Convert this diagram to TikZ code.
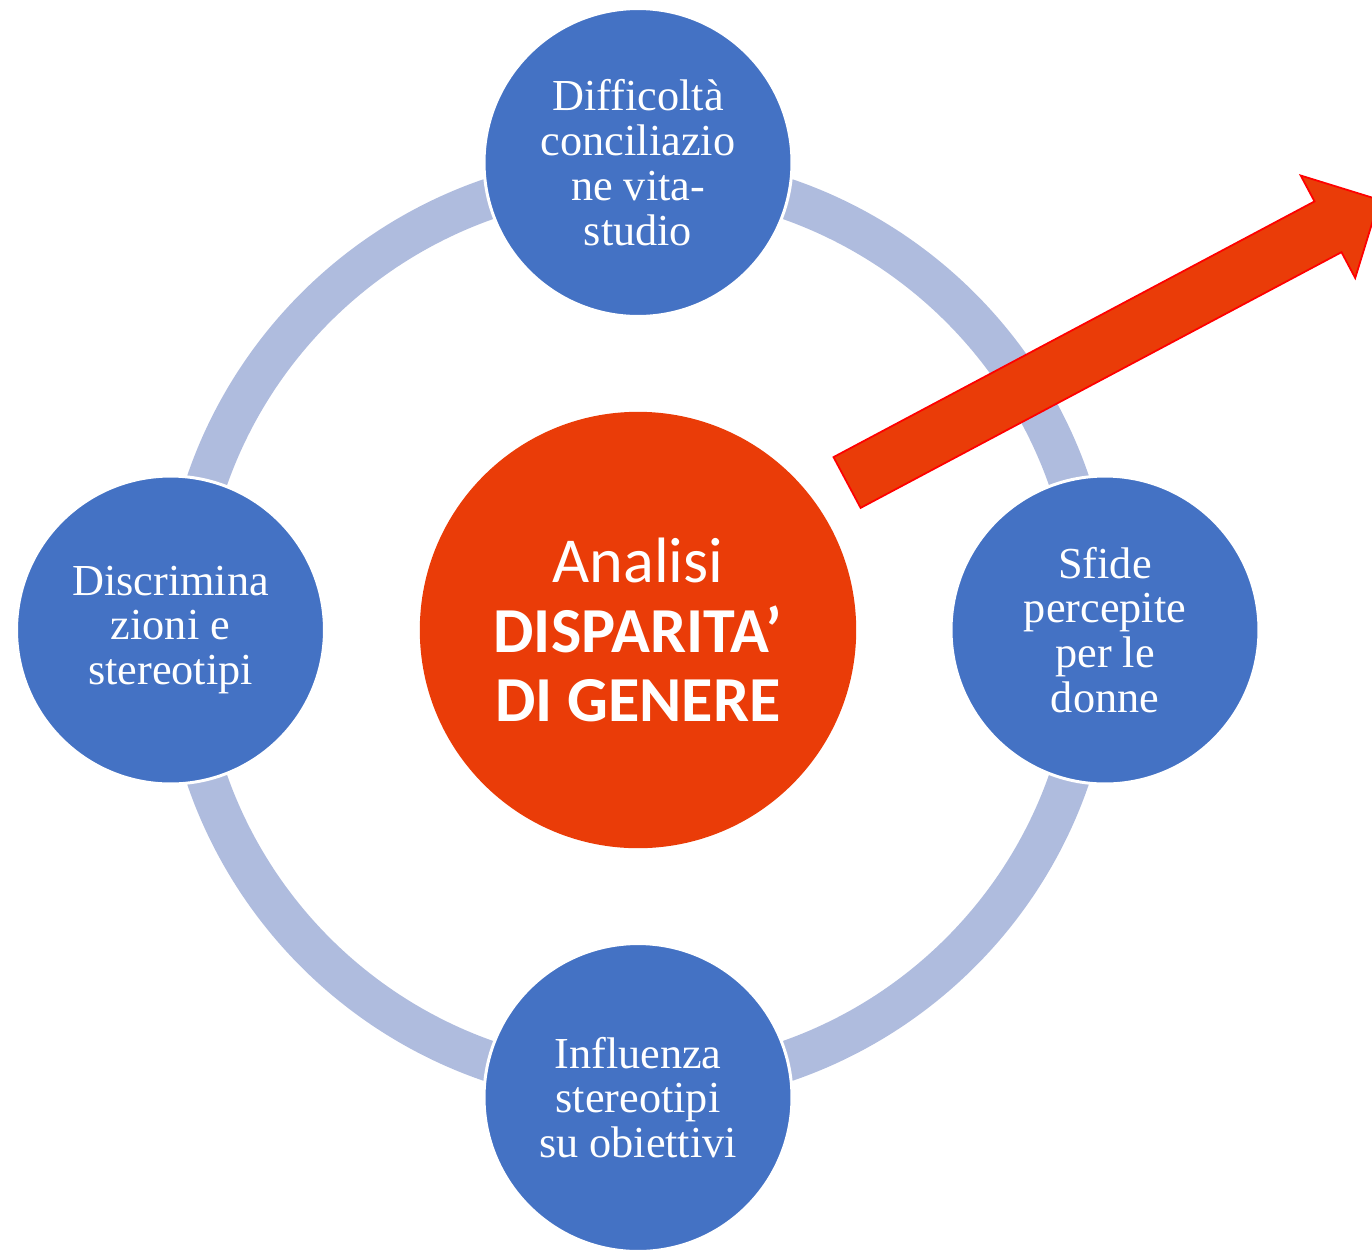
\documentclass[tikz,border=0pt]{standalone}
\usepackage{fontspec}
\setmainfont{Liberation Serif}
\newfontfamily\calibri{Carlito}
\definecolor{satblue}{RGB}{68,114,196}
\definecolor{ringblue}{RGB}{175,188,222}
\definecolor{hubred}{RGB}{234,60,8}
\definecolor{arrowline}{RGB}{255,0,0}
\begin{document}
\begin{tikzpicture}[x=0.02cm,y=-0.02cm,
  satnode/.style={circle,fill=satblue,draw=white,line width=1.7pt,minimum size=6.16cm,inner sep=0pt,text=white,align=center,font=\fontsize{25.2}{25.5}\selectfont},
  hubnode/.style={circle,fill=hubred,minimum size=8.73cm,inner sep=0pt,text=white,align=center,font=\calibri\fontsize{36.5}{39.7}\selectfont},
  ringline/.style={draw=ringblue,line width=23.2pt},
  bigarrow/.style={fill=hubred,draw=arrowline,line width=1pt,line join=miter}]
\useasboundingbox (0,0) rectangle (1372,1252);
\clip (0,0) rectangle (1372,1252);
\coordinate (C) at (638,630);
\draw[ringline] (C) circle [radius=456];
\node[satnode] (top) at (638,162.5) {Difficoltà\\conciliazio\\ne vita-\\studio};
\node[satnode] (left) at (170.5,630) {Discrimina\\zioni e\\stereotipi};
\node[satnode] (right) at (1105,630) {Sfide\\percepite\\per le\\donne};
\node[satnode] (bottom) at (638,1097.5) {Influenza\\stereotipi\\su obiettivi};
\node[hubnode] (hub) at (C) {Analisi\\\textbf{DISPARITA’}\\\textbf{DI GENERE}};
\coordinate (a1) at (833.5,457.1);
\coordinate (a2) at (1314.5,201.4);
\coordinate (a3) at (1300.7,175.5);
\coordinate (a4) at (1379.3,199.8);
\coordinate (a5) at (1355.2,278.0);
\coordinate (a6) at (1341.5,252.2);
\coordinate (a7) at (860.6,507.9);
\draw[bigarrow] (a1) -- (a2) -- (a3) -- (a4) -- (a5) -- (a6) -- (a7) -- cycle;
\end{tikzpicture}
\end{document}
